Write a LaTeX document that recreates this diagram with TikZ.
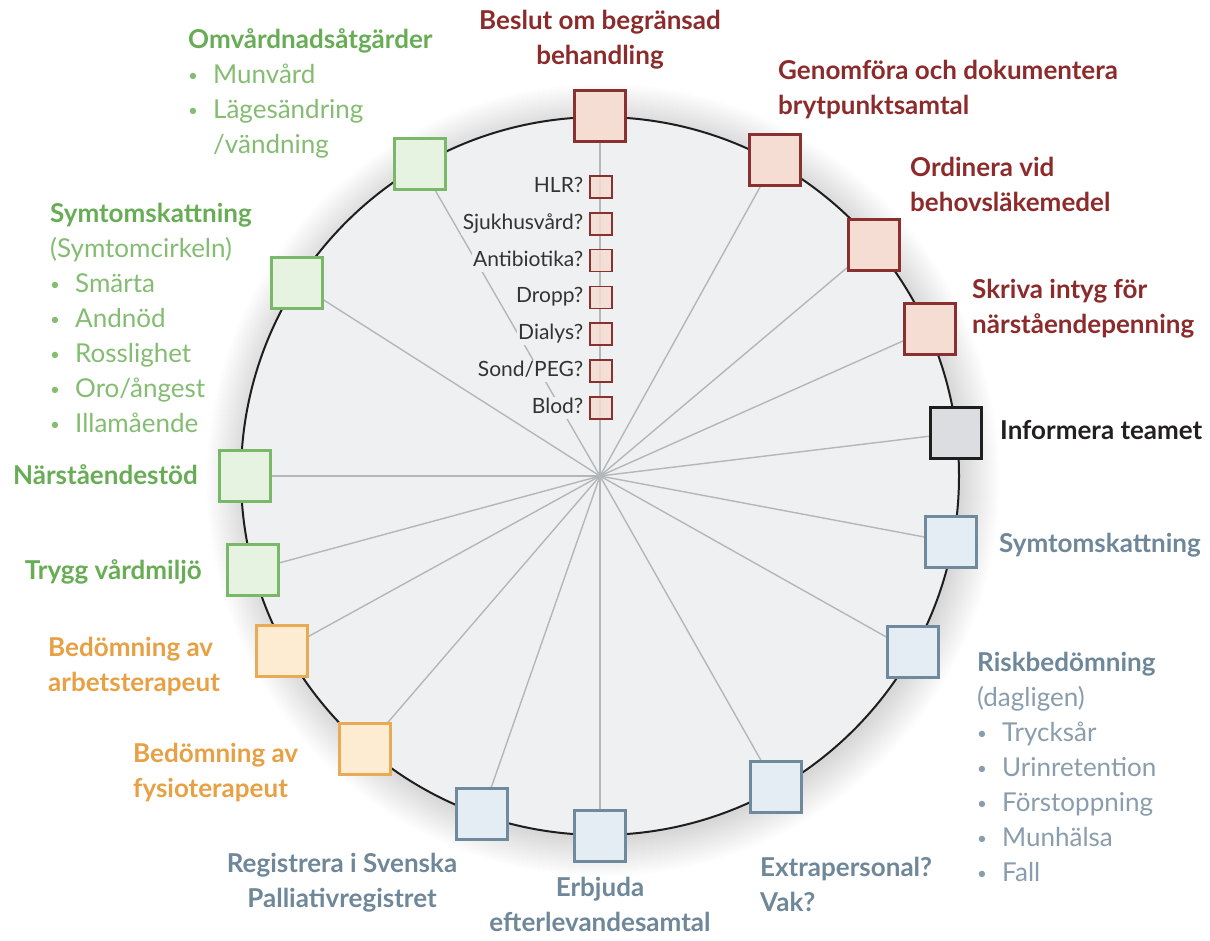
\documentclass[tikz,border=0pt]{standalone}
\usepackage{fontspec}
\setmainfont{Lato}
\definecolor{cRedT}{HTML}{8C2B2B}
\definecolor{cRedD}{HTML}{8B3030}
\definecolor{cRedF}{HTML}{F6DDD3}
\definecolor{cGrnT}{HTML}{68AD55}
\definecolor{cGrnL}{HTML}{84BD72}
\definecolor{cGrnD}{HTML}{78B868}
\definecolor{cGrnF}{HTML}{E7F3E1}
\definecolor{cOrT}{HTML}{E8A044}
\definecolor{cOrD}{HTML}{E8AA55}
\definecolor{cOrF}{HTML}{FDEBD2}
\definecolor{cBlT}{HTML}{6E8799}
\definecolor{cBlL}{HTML}{8A9DAC}
\definecolor{cBlD}{HTML}{6F8A9C}
\definecolor{cBlF}{HTML}{E5EDF4}
\definecolor{cDkT}{HTML}{231F20}
\definecolor{cDkD}{HTML}{1E1E1E}
\definecolor{cDkF}{HTML}{DCDDE0}
\definecolor{cBg}{HTML}{EEF0F2}
\definecolor{cSpoke}{HTML}{B4B7BA}
\definecolor{cLab}{HTML}{333333}
\pgfdeclarelayer{glowlayer}
\pgfdeclarelayer{backlayer}
\pgfsetlayers{glowlayer,backlayer,main}
\newcommand\bul{\makebox[25pt][l]{\fontsize{17}{17}\selectfont\raisebox{1.5pt}{\textbullet}}}
\tikzset{
  bigbox/.style={draw, line width=2.2pt, minimum size=51pt, inner sep=0pt},
  boxRed/.style={bigbox, draw=cRedD, fill=cRedF},
  boxGrn/.style={bigbox, draw=cGrnD, fill=cGrnF},
  boxOr/.style={bigbox, draw=cOrD, fill=cOrF},
  boxBl/.style={bigbox, draw=cBlD, fill=cBlF},
  boxDk/.style={bigbox, draw=cDkD, fill=cDkF},
  smallbox/.style={draw=cRedD, fill=cRedF, fill opacity=.85, line width=1.6pt, minimum size=22pt, inner sep=0pt},
  smalllab/.style={anchor=east, fill=cBg, inner sep=1.5pt, text=cLab, font=\fontsize{21}{25}\selectfont, text height=15pt, text depth=4pt},
  lab/.style={inner sep=0pt, font=\fontsize{26}{35}\selectfont, execute at begin node={\strut}, execute at end node={\strut}},
  tit/.style={lab, font=\fontsize{26}{35}\selectfont\bfseries},
  spoke/.style={draw=cSpoke, line width=1.4pt},
  ring/.style={draw=cDkD, line width=2pt}
}
\begin{document}
\begin{tikzpicture}[x=1pt,y=-1pt]
\useasboundingbox (0,0) rectangle (1210,941);
\coordinate (C) at (600,476);
\coordinate (G) at (603,480);
% big boxes
\node[boxRed] (beslut) at (600,116) {};
\node[boxRed] (gen) at (775,160) {};
\node[boxRed] (ord) at (874,245) {};
\node[boxRed] (skr) at (930,329) {};
\node[boxDk] (inf) at (956,433) {};
\node[boxBl] (symR) at (951,542) {};
\node[boxBl] (risk) at (913,652) {};
\node[boxBl] (extra) at (776,787) {};
\node[boxBl] (erb) at (600,836) {};
\node[boxBl] (reg) at (482,814) {};
\node[boxOr] (fys) at (365,749) {};
\node[boxOr] (arb) at (282,651) {};
\node[boxGrn] (trygg) at (253,570) {};
\node[boxGrn] (nar) at (245,476) {};
\node[boxGrn] (symL) at (297,283) {};
\node[boxGrn] (omv) at (420,164) {};
% small boxes and labels
\foreach \t [count=\i] in {HLR?,Sjukhusvård?,Antibiotika?,Dropp?,Dialys?,Sond/PEG?,Blod?} {
  \node[smallbox] (q\i) at (601,{187+36.8*(\i-1)}) {};
  \node[smalllab] (l\i) at (585,{187+36.8*(\i-1)}) {\t};
}
% texts
\node[tit, text=cRedT, align=center] (beslutT) at (600,43) {Beslut om begränsad\\behandling};
\node[tit, text=cRedT, align=left, anchor=west] (genT) at (778,93) {Genomföra och dokumentera\\brytpunktsamtal};
\node[tit, text=cRedT, align=left, anchor=west] (ordT) at (910,190) {Ordinera vid\\behovsläkemedel};
\node[tit, text=cRedT, align=left, anchor=west] (skrT) at (972,312) {Skriva intyg för\\närståendepenning};
\node[tit, text=cDkT, anchor=west] (infT) at (1000,432) {Informera teamet};
\node[tit, text=cBlT, anchor=west] (symRT) at (999,545) {Symtomskattning};
\node[lab, text=cBlL, align=left, anchor=west] (riskT) at (977,772) {{\bfseries\color{cBlT}Riskbedömning}\\(dagligen)\\\bul Trycksår\\\bul Urinretention\\\bul Förstoppning\\\bul Munhälsa\\\bul Fall};
\node[tit, text=cBlT, align=left, anchor=west] (extraT) at (760,890) {Extrapersonal?\\Vak?};
\node[tit, text=cBlT, align=center] (erbT) at (600,910) {Erbjuda\\efterlevandesamtal};
\node[tit, text=cBlT, align=center] (regT) at (342,886) {Registrera i Svenska\\Palliativregistret};
\node[tit, text=cOrT, align=left, anchor=west] (fysT) at (133,776) {Bedömning av\\fysioterapeut};
\node[tit, text=cOrT, align=left, anchor=west] (arbT) at (48,670) {Bedömning av\\arbetsterapeut};
\node[tit, text=cGrnT, anchor=east] (tryggT) at (202,572) {Trygg vårdmiljö};
\node[tit, text=cGrnT, anchor=east] (narT) at (198,477) {Närståendestöd};
\node[lab, text=cGrnL, align=left, anchor=west] (symLT) at (50,323) {{\bfseries\color{cGrnT}Symtomskattning}\\(Symtomcirkeln)\\\bul Smärta\\\bul Andnöd\\\bul Rosslighet\\\bul Oro/ångest\\\bul Illamående};
\node[lab, text=cGrnL, align=left, anchor=west] (omvT) at (188,96) {{\bfseries\color{cGrnT}Omvårdnadsåtgärder}\\\bul Munvård\\\bul Lägesändring\\\hspace*{25pt}/vändning};
% background
\begin{pgfonlayer}{glowlayer}
  \fill[white] (0,0) rectangle (1210,941);
  \foreach \k in {1,...,40} \fill[black, opacity=0.0032] (G) circle[radius={(357+\k)*1pt}];
  \fill[cBg] (C) circle[radius=359pt];
\end{pgfonlayer}
\begin{pgfonlayer}{backlayer}
  \foreach \n in {beslut,gen,ord,skr,inf,symR,risk,extra,erb,reg,fys,arb,trygg,nar,symL,omv}
    \draw[spoke] (C) -- (\n);
  \draw[ring] (C) circle[radius=359pt];
\end{pgfonlayer}
\end{tikzpicture}
\end{document}
